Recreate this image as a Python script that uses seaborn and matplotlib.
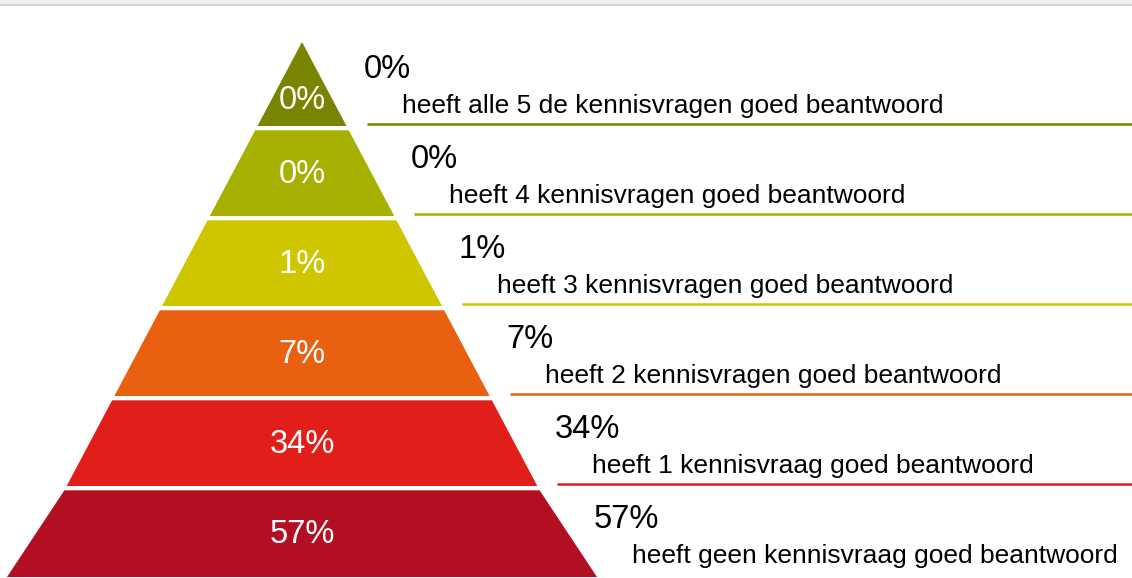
import matplotlib.pyplot as plt
from matplotlib.patches import Polygon
import seaborn as sns

# ===============================
# Data (top of pyramid first)
# ===============================
descriptions = [
    'heeft alle 5 de kennisvragen goed beantwoord',
    'heeft 4 kennisvragen goed beantwoord',
    'heeft 3 kennisvragen goed beantwoord',
    'heeft 2 kennisvragen goed beantwoord',
    'heeft 1 kennisvraag goed beantwoord',
    'heeft geen kennisvraag goed beantwoord',
]
percentages = [0, 0, 1, 7, 34, 57]
layer_colors = ['#7A8400', '#A6B000', '#CFC600', '#E96010', '#E21E1A', '#B21022']

# ===============================
# Layout (pixel space, y downwards)
# ===============================
W, H = 1132, 578
cx = 302          # pyramid centre
apex_y = 42
pitch = 90        # height per layer incl. gap
first_bottom = 126
gap = 4.3
slope = 0.53      # half-width per px below apex
base_half = 295   # bottom edge flares a bit

sns.set_theme(style='white')
plt.rcParams['font.family'] = ['Liberation Sans', 'DejaVu Sans']

fig = plt.figure(figsize=(W / 100, H / 100), dpi=100)
ax = fig.add_axes([0, 0, 1, 1])
ax.set_xlim(0, W)
ax.set_ylim(H, 0)
ax.axis('off')

# light grey strip at the very top
ax.axhspan(0, 4, color='#efefef', lw=0)
ax.axhline(4.5, color='#d9d4d4', lw=1.5)


def half_width(y):
    return slope * (y - apex_y)


n = len(percentages)
for i, (pct, desc, col) in enumerate(zip(percentages, descriptions, layer_colors)):
    top = apex_y if i == 0 else first_bottom + gap + pitch * (i - 1)
    bottom = first_bottom + pitch * i if i < n - 1 else H - 1
    hw_top = half_width(top)
    hw_bot = half_width(bottom) if i < n - 1 else base_half

    poly = Polygon(
        [(cx - hw_top, top), (cx + hw_top, top),
         (cx + hw_bot, bottom), (cx - hw_bot, bottom)],
        closed=True, facecolor=col, edgecolor='none'
    )
    ax.add_patch(poly)

    # value inside the layer
    if i == 0:
        y_in = top + 0.7 * (bottom - top)
    else:
        y_in = (top + bottom) / 2 + 1
    ax.text(cx, y_in, f'{pct}%', color='white', fontsize=23.5,
            ha='center', va='center')

    # labels on the right
    row_bottom = first_bottom + pitch * i
    edge = cx + half_width(min(row_bottom, 560))
    x_pct = edge + 17
    ax.text(x_pct, row_bottom - 57, f'{pct}%', color='black',
            fontsize=23.5, ha='left', va='center')
    ax.text(x_pct + 38, row_bottom - 20, desc, color='black',
            fontsize=19, ha='left', va='center')

    # coloured rule under the label
    if i < n - 1:
        y_line = bottom - 1.8
        ax.plot([cx + half_width(y_line) + 21, W], [y_line, y_line],
                color=col, lw=1.8, solid_capstyle='butt')

fig.savefig('out.png', dpi=100)
